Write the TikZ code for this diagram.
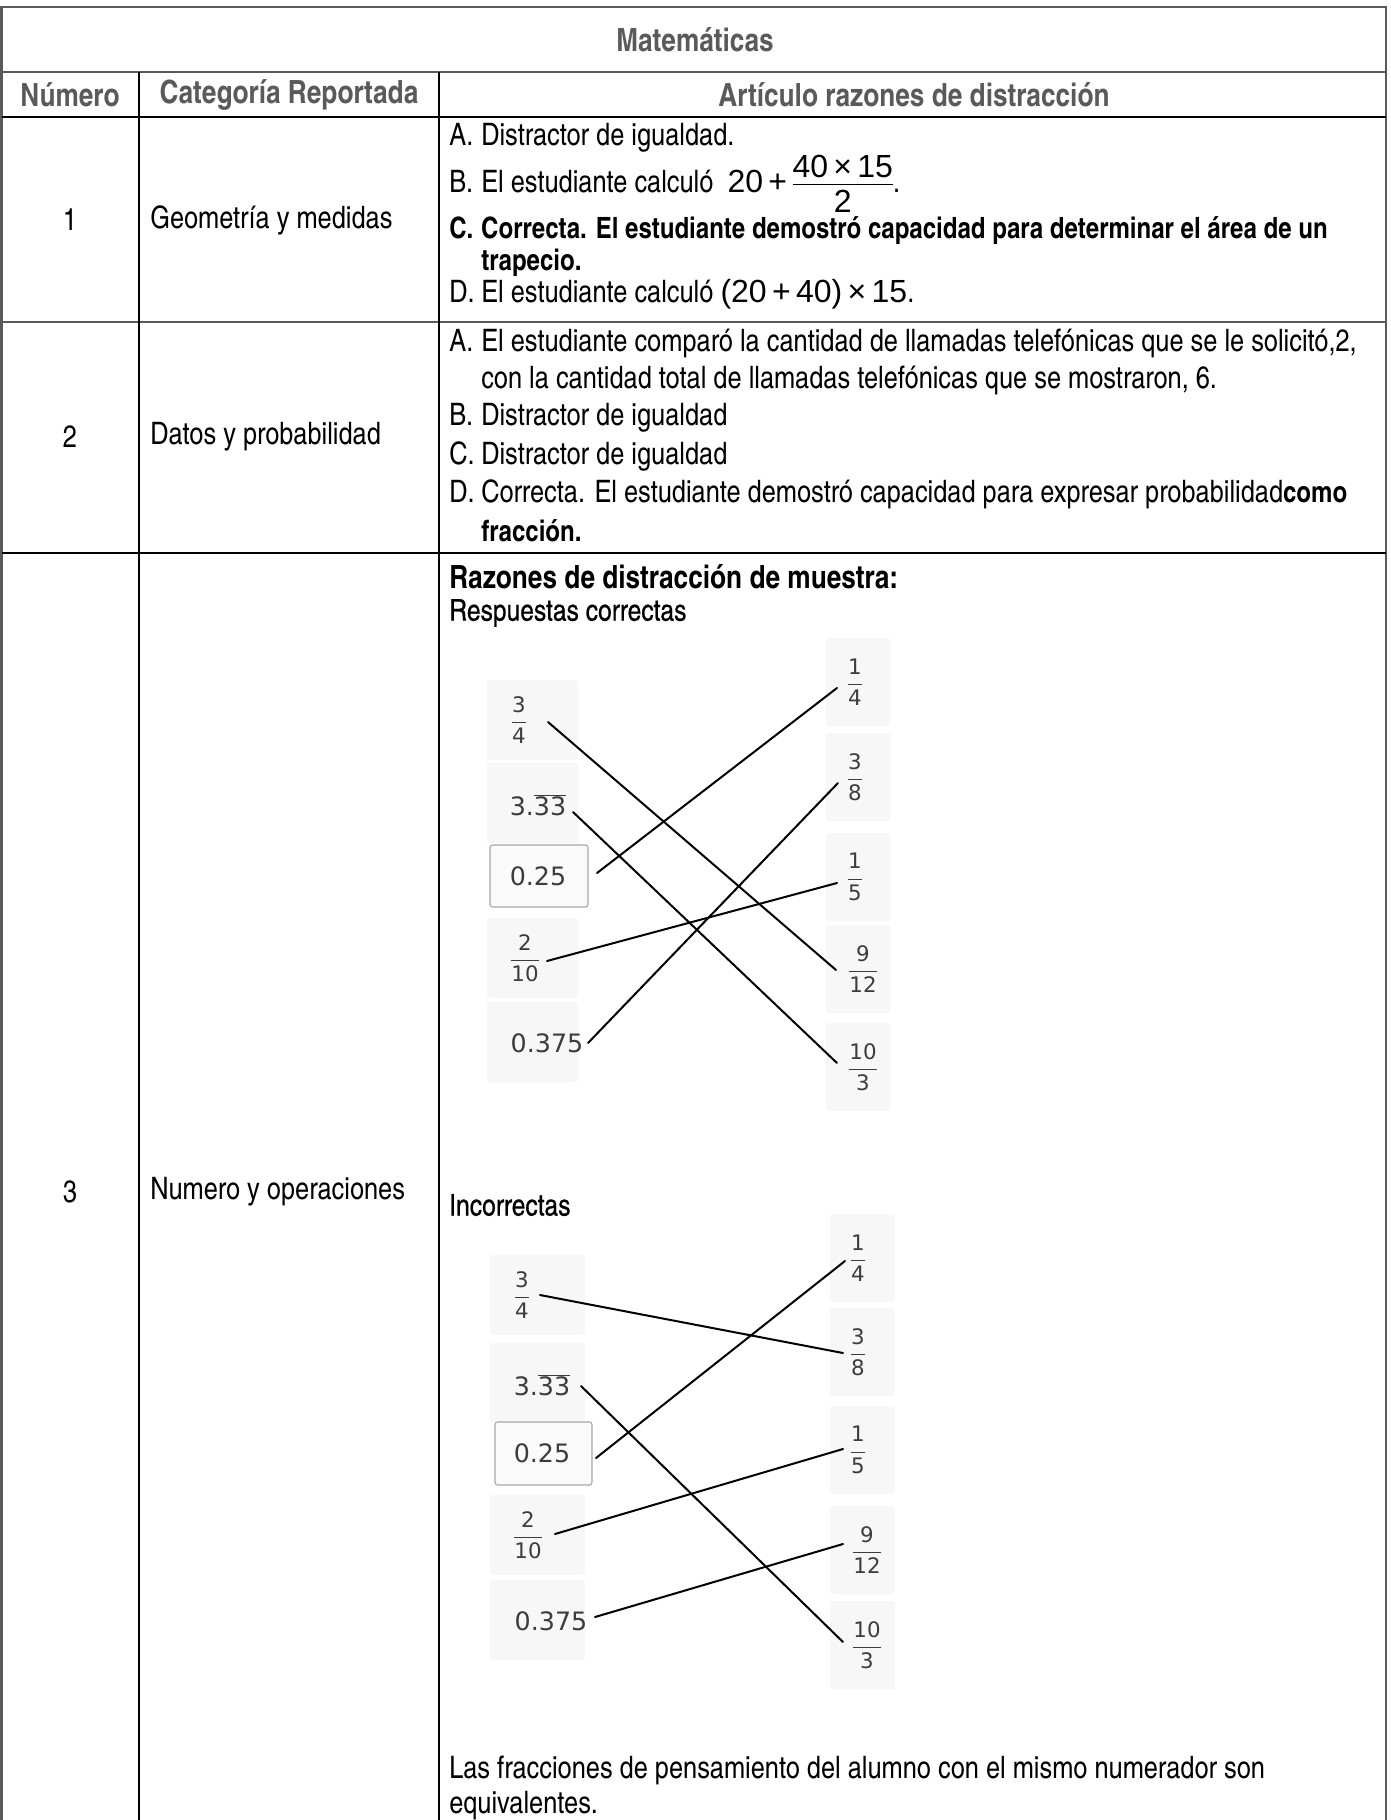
\documentclass[tikz,border=0pt]{standalone}
\usepackage{fontspec}
\setmainfont{TeX Gyre Heros Cn}
\newfontfamily\medf{TeX Gyre Heros Cn}[FakeBold=0.5]
\newfontfamily\verd{DejaVu Sans}
\newfontfamily\arialf{Liberation Sans}
\usetikzlibrary{calc}
\definecolor{hdr}{HTML}{5A5A5A}
\definecolor{dg}{HTML}{3C3C3C}
\newcommand\lab[1]{\makebox[24pt][l]{#1}}
\newcommand\vf[2]{$\displaystyle{\hbox{#1}\over\hbox{#2}}$}
\newcommand\afrac[2]{\ensuremath{\vcenter{\offinterlineskip\halign{\hfil##\hfil\cr\hbox{#1}\cr\noalign{\kern4pt\hrule height 0.8pt\kern4pt}\hbox{#2}\cr}}}}
\newcommand\rep{3.$\overline{\hbox{33}}$}
\begin{document}
\begin{tikzpicture}[x=0.75pt,y=-0.75pt,
  body/.style={font=\fontsize{23.2}{27}\selectfont, inner sep=0pt, anchor=west},
  bbody/.style={font=\fontsize{22}{26}\selectfont\bfseries, inner sep=0pt, anchor=west},
  hd/.style={font=\fontsize{24}{28}\selectfont\bfseries, text=hdr, inner sep=0pt},
  frameln/.style={draw=hdr, line width=2.2pt},
  gridln/.style={line width=1.3pt},
  link/.style={line width=1.5pt, line cap=round},
  dec/.style={font=\verd\fontsize{19}{22}\selectfont, text=dg, inner sep=0pt},
  fr/.style={font=\verd\fontsize{16}{20}\selectfont, text=dg, inner sep=0pt},
  kbox/.style={fill=black!2, draw=black!35, line width=0.8pt, rounded corners=2pt}
]
\useasboundingbox (0,0) rectangle (1391,1820);

% ---------- table rules ----------
\draw[frameln] (1.5,1820) -- (1.5,7) -- (1386,7) -- (1386,1820);
\draw[frameln] (1.5,72) -- (1386,72);
\draw[gridln] (1.5,117) -- (1386,117);
\draw[gridln,draw=hdr] (1.5,322) -- (1386,322);
\draw[gridln] (1.5,553) -- (1386,553);
\draw[gridln] (139,72) -- (139,1820);
\draw[gridln] (439,72) -- (439,1820);

% ---------- headers ----------
\node[hd] (title) at (695,40) {Matemáticas};
\node[hd] (h1) at (70,95) {Número};
\node[hd] (h2) at (289,95) {Categoría Reportada};
\node[hd] (h3) at (914,95) {Artículo razones de distracción};

% ---------- row 1 ----------
\node[body,anchor=center] (n1) at (70,220) {1};
\node[body] (c1) at (150,220) {Geometría y medidas};
\node[body] (r1a) at (449,138) {\lab{A.}Distractor de igualdad.};
\node[body] (r1b) at (449,184) {\lab{B.}El estudiante calculó\ \ {\arialf\fontsize{24}{28}\selectfont 20\,+\,\afrac{40\,×\,15}{2}}.};
\node[bbody] (r1c) at (449,231) {\lab{C.}Correcta. El estudiante demostró capacidad para determinar el área de un};
\node[bbody] (r1c2) at (481,263) {trapecio.};
\node[body] (r1d) at (449,294) {\lab{D.}El estudiante calculó {\arialf\fontsize{24}{28}\selectfont (20\,+\,40)\,×\,15}.};

% ---------- row 2 ----------
\node[body,anchor=center] (n2) at (70,437) {2};
\node[body] (c2) at (150,437) {Datos y probabilidad};
\node[body] (r2a) at (449,343) {\lab{A.}El estudiante comparó la cantidad de llamadas telefónicas que se le solicitó,2,};
\node[body] (r2a2) at (481,380) {con la cantidad total de llamadas telefónicas que se mostraron, 6.};
\node[body] (r2b) at (449,418) {\lab{B.}Distractor de igualdad};
\node[body] (r2c) at (449,456) {\lab{C.}Distractor de igualdad};
\node[body] (r2d) at (449,494) {\lab{D.}Correcta. El estudiante demostró capacidad para expresar probabilidad{\fontsize{22}{26}\selectfont\bfseries como}};
\node[bbody] (r2d2) at (481,531) {fracción.};

% ---------- row 3 ----------
\node[body,anchor=center] (n3) at (70,1192) {3};
\node[body] (c3) at (150,1192) {Numero y operaciones};
\node[body,font=\fontsize{24}{28}\selectfont\bfseries] (r3h) at (449,577) {Razones de distracción de muestra:};
\node[body,font=\medf\fontsize{22.5}{27}\selectfont] (r3s1) at (449,613) {Respuestas correctas};
\node[body,font=\medf\fontsize{22.5}{27}\selectfont] (r3s2) at (449,1205) {Incorrectas};
\node[body] (r3f1) at (449,1770) {Las fracciones de pensamiento del alumno con el mismo numerador son};
\node[body] (r3f2) at (449,1806) {equivalentes.};

% ---------- diagram 1 (correct) ----------
\foreach \yy in {720,803,958,1042} {\fill[black!3,rounded corners=2pt] (487,\yy-40) rectangle (578,\yy+40);}
\foreach \yy in {682,777,877,969,1067} {\fill[black!3,rounded corners=2pt] (826,\yy-44) rectangle (890,\yy+44);}
\draw[kbox] (490,845) rectangle (588,907);
\node[fr] (a34) at (519,720) {\vf{3}{4}};
\node[dec] (a333) at (538,805) {\rep};
\node[dec] (a025) at (538,876) {0.25};
\node[fr] (a210) at (525,958) {\vf{2}{10}};
\node[dec] (a0375) at (547,1043) {0.375};
\node[fr] (b14) at (855,682) {\vf{1}{4}};
\node[fr] (b38) at (855,777) {\vf{3}{8}};
\node[fr] (b15) at (855,877) {\vf{1}{5}};
\node[fr] (b912) at (863,969) {\vf{9}{12}};
\node[fr] (b103) at (863,1067) {\vf{10}{3}};
\coordinate (pa34) at ($(a34.center)+(29,2)$);
\coordinate (pa333) at ($(a333.center)+(35,7)$);
\coordinate (pa025) at ($(a025.center)+(59,-3)$);
\coordinate (pa210) at ($(a210.center)+(22,3)$);
\coordinate (pa0375) at ($(a0375.center)+(41,0)$);
\coordinate (pb14) at ($(b14.center)+(-18,6)$);
\coordinate (pb38) at ($(b38.center)+(-17,6)$);
\coordinate (pb15) at ($(b15.center)+(-18,6)$);
\coordinate (pb912) at ($(b912.center)+(-27,1)$);
\coordinate (pb103) at ($(b103.center)+(-26,-4)$);
\draw[link] (pa34) -- (pb912);
\draw[link] (pa333) -- (pb103);
\draw[link] (pa025) -- (pb14);
\draw[link] (pa210) -- (pb15);
\draw[link] (pa0375) -- (pb38);

% ---------- diagram 2 (incorrect) ----------
\foreach \yy in {1295,1383,1535,1620} {\fill[black!3,rounded corners=2pt] (490,\yy-40) rectangle (585,\yy+40);}
\foreach \yy in {1258,1352,1450,1550,1645} {\fill[black!3,rounded corners=2pt] (830,\yy-44) rectangle (895,\yy+44);}
\draw[kbox] (495,1422) rectangle (592,1485);
\node[fr] (c34) at (522,1295) {\vf{3}{4}};
\node[dec] (c333) at (542,1385) {\rep};
\node[dec] (c025) at (542,1453) {0.25};
\node[fr] (c210) at (528,1535) {\vf{2}{10}};
\node[dec] (c0375) at (551,1621) {0.375};
\node[fr] (d14) at (858,1258) {\vf{1}{4}};
\node[fr] (d38) at (858,1352) {\vf{3}{8}};
\node[fr] (d15) at (858,1450) {\vf{1}{5}};
\node[fr] (d912) at (867,1550) {\vf{9}{12}};
\node[fr] (d103) at (867,1645) {\vf{10}{3}};
\coordinate (pc34) at ($(c34.center)+(18,0)$);
\coordinate (pc333) at ($(c333.center)+(39,1)$);
\coordinate (pc025) at ($(c025.center)+(54,5)$);
\coordinate (pc210) at ($(c210.center)+(27,-1)$);
\coordinate (pc0375) at ($(c0375.center)+(44,-4)$);
\coordinate (pd14) at ($(d14.center)+(-13,3)$);
\coordinate (pd38) at ($(d38.center)+(-15,1)$);
\coordinate (pd15) at ($(d15.center)+(-15,-1)$);
\coordinate (pd912) at ($(d912.center)+(-24,-6)$);
\coordinate (pd103) at ($(d103.center)+(-24,-3)$);
\draw[link] (pc34) -- (pd38);
\draw[link] (pc333) -- (pd103);
\draw[link] (pc025) -- (pd14);
\draw[link] (pc210) -- (pd15);
\draw[link] (pc0375) -- (pd912);
\end{tikzpicture}
\end{document}
